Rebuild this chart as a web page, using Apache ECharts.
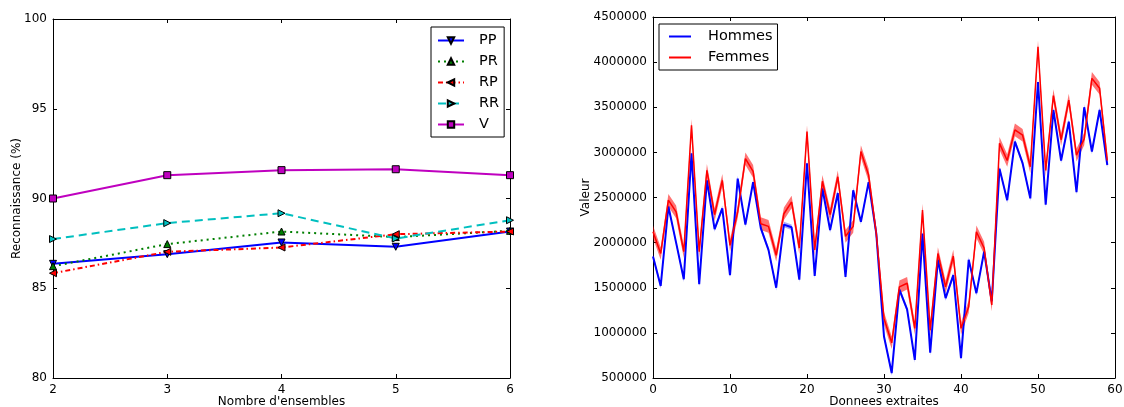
<!DOCTYPE html>
<html>
<head>
<meta charset="utf-8">
<script src="https://cdn.jsdelivr.net/npm/echarts@6/dist/echarts.min.js"></script>
<style>
  html, body { margin: 0; padding: 0; background: #fff; }
  #main { width: 1124px; height: 407px; }
</style>
</head>
<body>
<div id="main"></div>
<script>
// gauche : taux de reconnaissance selon le nombre d'ensembles
const ensembles = [2, 3, 4, 5, 6];
const pp = [86.36, 86.9, 87.55, 87.31, 88.16];
const pr = [86.23, 87.46, 88.16, 87.85, 88.2];
const rp = [85.84, 87.03, 87.27, 88.01, 88.16];
const rr = [87.74, 88.63, 89.18, 87.77, 88.79];
const v = [90.0, 91.3, 91.58, 91.63, 91.3];

// droite : donnees extraites (60 points)
const hommes = [
  1846000, 1520000, 2400000, 2000000, 1595000, 2990000, 1540000, 2690000, 2150000, 2380000,
  1640000, 2710000, 2200000, 2670000, 2160000, 1920000, 1500000, 2200000, 2170000, 1590000,
  2880000, 1630000, 2600000, 2140000, 2550000, 1620000, 2580000, 2230000, 2670000, 2100000,
  960000, 555000, 1480000, 1260000, 700000, 2100000, 780000, 1810000, 1385000, 1640000,
  720000, 1810000, 1440000, 1900000, 1350000, 2820000, 2470000, 3120000, 2880000, 2490000,
  3780000, 2420000, 3470000, 2910000, 3340000, 2560000, 3500000, 3010000, 3470000, 2860000
];
const femmes = [
  2120000, 1880000, 2470000, 2340000, 1900000, 3300000, 1900000, 2800000, 2310000, 2690000,
  1970000, 2340000, 2930000, 2790000, 2210000, 2180000, 1860000, 2320000, 2450000, 1940000,
  3230000, 1920000, 2680000, 2310000, 2730000, 2070000, 2180000, 3010000, 2750000, 2100000,
  1160000, 890000, 1510000, 1550000, 1050000, 2360000, 1030000, 1880000, 1510000, 1850000,
  1050000, 1290000, 2120000, 1940000, 1310000, 3100000, 2910000, 3250000, 3190000, 2840000,
  4170000, 2800000, 3630000, 3140000, 3580000, 2970000, 3150000, 3820000, 3710000, 2910000
];
const hommesErr = 30000;
const femmesErr = 70000;

const font = 'DejaVu Sans';

function pairs(xs, ys) {
  return ys.map((y, i) => [xs[i], y]);
}
const idx = hommes.map((_, i) => i);

function frameAxis(gridIndex, position, min, max, interval) {
  return {
    type: 'value',
    gridIndex: gridIndex,
    position: position,
    min: min,
    max: max,
    interval: interval,
    axisLine: { show: true, onZero: false, lineStyle: { color: '#000', width: 1 } },
    axisTick: { show: true, inside: true, length: 4, lineStyle: { color: '#000' } },
    axisLabel: { show: false },
    splitLine: { show: false }
  };
}

function mainAxis(gridIndex, position, min, max, interval, name, nameGap) {
  const ax = frameAxis(gridIndex, position, min, max, interval);
  ax.axisLabel = {
    show: true, color: '#000', fontFamily: font, fontSize: 12, margin: 6,
    formatter: (val) => String(val)
  };
  ax.name = name;
  ax.nameLocation = 'middle';
  ax.nameGap = nameGap;
  ax.nameMoveOverlap = false;
  ax.nameTextStyle = { color: '#000', fontFamily: font, fontSize: 12 };
  return ax;
}

function lineSerie(name, data, color, symbol, rotate, type) {
  return {
    name: name,
    type: 'line',
    xAxisIndex: 0,
    yAxisIndex: 0,
    data: pairs(ensembles, data),
    symbol: symbol,
    symbolRotate: rotate,
    symbolSize: 7,
    itemStyle: { color: color, borderColor: '#000', borderWidth: 1 },
    lineStyle: { color: color, width: 2, type: type },
    z: 3
  };
}

// bande autour de la courbe : un seul polygone passe par les echelles de l'axe
function bandSerie(name, data, err, fill) {
  return {
    name: name + '_bande',
    type: 'custom',
    xAxisIndex: 2,
    yAxisIndex: 2,
    silent: true,
    data: data.map((d, i) => [i, d - err, d + err]),
    renderItem: function (params, api) {
      if (params.dataIndex !== 0) return null;
      const top = [];
      const bottom = [];
      data.forEach((d, i) => {
        top.push(api.coord([i, d + err]));
        bottom.push(api.coord([i, d - err]));
      });
      return {
        type: 'polygon',
        shape: { points: top.concat(bottom.reverse()) },
        style: { fill: fill, stroke: 'none' }
      };
    }
  };
}

const chartDom = document.getElementById('main');
const chart = echarts.init(chartDom);

const option = {
  animation: false,
  backgroundColor: '#fff',
  grid: [
    { left: 53, top: 19, width: 457, height: 359, outerBoundsMode: 'none', containLabel: false },
    { left: 653, top: 17, width: 462, height: 361, outerBoundsMode: 'none', containLabel: false }
  ],
  xAxis: [
    mainAxis(0, 'bottom', 2, 6, 1, "Nombre d'ensembles", 18),
    frameAxis(0, 'top', 2, 6, 1),
    mainAxis(1, 'bottom', 0, 60, 10, 'Donnees extraites', 18),
    frameAxis(1, 'top', 0, 60, 10)
  ],
  yAxis: [
    mainAxis(0, 'left', 80, 100, 5, 'Reconnaissance (%)', 30),
    frameAxis(0, 'right', 80, 100, 5),
    mainAxis(1, 'left', 500000, 4500000, 500000, 'Valeur', 61),
    frameAxis(1, 'right', 500000, 4500000, 500000)
  ],
  legend: [{
    data: ['PP', 'PR', 'RP', 'RR', 'V'],
    orient: 'vertical',
    left: 431,
    top: 27,
    padding: [6, 5, 5, 6],
    itemGap: 6,
    itemWidth: 26,
    itemHeight: 8,
    borderColor: '#000',
    borderWidth: 1,
    borderRadius: 0,
    textStyle: { color: '#000', fontFamily: font, fontSize: 14.5, padding: [0, 0, 0, 10] }
  }, {
    data: ['Hommes', 'Femmes'],
    orient: 'vertical',
    left: 659,
    top: 24,
    padding: [5, 5, 5, 9],
    itemGap: 6,
    itemWidth: 22,
    itemHeight: 8,
    borderColor: '#000',
    borderWidth: 1,
    borderRadius: 0,
    itemStyle: { opacity: 0 },
    textStyle: { color: '#000', fontFamily: font, fontSize: 14.5, padding: [0, 0, 0, 12] }
  }],
  series: [
    lineSerie('PP', pp, '#0000ff', 'triangle', 180, 'solid'),
    lineSerie('PR', pr, '#007f00', 'triangle', 0, [2, 4]),
    lineSerie('RP', rp, '#ff0000', 'triangle', 90, [5, 3, 1.5, 3]),
    lineSerie('RR', rr, '#00bfbf', 'triangle', -90, [8, 5]),
    lineSerie('V', v, '#bf00bf', 'rect', 0, 'solid'),
    bandSerie('Hommes', hommes, hommesErr, 'rgba(0,0,255,0.35)'),
    {
      name: 'Hommes',
      type: 'line',
      xAxisIndex: 2,
      yAxisIndex: 2,
      data: pairs(idx, hommes),
      symbol: 'none',
      itemStyle: { color: '#0000ff' },
      lineStyle: { color: '#0000ff', width: 2 }
    },
    bandSerie('Femmes', femmes, femmesErr, 'rgba(255,0,0,0.55)'),
    {
      name: 'Femmes',
      type: 'line',
      xAxisIndex: 2,
      yAxisIndex: 2,
      data: pairs(idx, femmes),
      symbol: 'none',
      itemStyle: { color: '#ff0000' },
      lineStyle: { color: '#ff0000', width: 1.5 }
    }
  ]
};

option && chart.setOption(option);
</script>
</body>
</html>
